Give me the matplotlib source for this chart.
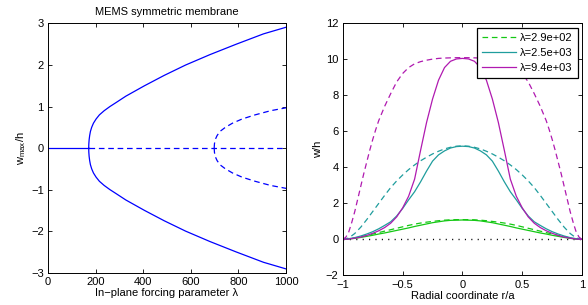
import numpy as np
import matplotlib
matplotlib.use('Agg')
from matplotlib import pyplot as plt

plt.rcParams['font.family'] = ['Liberation Sans', 'DejaVu Sans']
plt.rcParams['font.size'] = 8
plt.rcParams['mathtext.default'] = 'regular'

# ---- left panel: bifurcation diagram ----
lam_flat = [0, 171]
w_flat = [0, 0]
lam_unst = [171, 1000]
w_unst = [0, 0]
lam_main = [171, 171.5, 172.8, 175, 178.2, 183.5, 191, 202, 216, 236, 260,
            287, 327, 405, 488, 578, 680, 790, 905, 1000]
w_main = [0, 0.10, 0.20, 0.30, 0.40, 0.50, 0.60, 0.70, 0.80, 0.90, 1.00,
          1.10, 1.25, 1.50, 1.75, 2.00, 2.25, 2.50, 2.75, 2.91]
lam_sec = [698, 699, 702, 710, 722, 745, 775, 815, 870, 935, 1000]
w_sec = [0, 0.10, 0.20, 0.30, 0.40, 0.50, 0.60, 0.70, 0.80, 0.90, 0.97]

# ---- right panel: profiles ----
r = [-1, -0.95, -0.9, -0.85, -0.8, -0.75, -0.7, -0.65, -0.6, -0.55, -0.5,
     -0.45, -0.4, -0.35, -0.3, -0.25, -0.2, -0.15, -0.1, -0.05, 0,
     0.05, 0.1, 0.15, 0.2, 0.25, 0.3, 0.35, 0.4, 0.45, 0.5,
     0.55, 0.6, 0.65, 0.7, 0.75, 0.8, 0.85, 0.9, 0.95, 1]

g_dash = [0, 0.03, 0.08, 0.15, 0.22, 0.30, 0.38, 0.46, 0.54, 0.62, 0.70,
          0.78, 0.85, 0.91, 0.96, 1.00, 1.04, 1.07, 1.09, 1.10, 1.10,
          1.10, 1.09, 1.07, 1.04, 1.00, 0.96, 0.91, 0.85, 0.78, 0.70,
          0.62, 0.54, 0.46, 0.38, 0.30, 0.22, 0.15, 0.08, 0.03, 0]
g_sol = [0, 0.02, 0.06, 0.11, 0.17, 0.23, 0.30, 0.36, 0.43, 0.50, 0.57,
         0.64, 0.72, 0.79, 0.86, 0.93, 0.98, 1.03, 1.06, 1.07, 1.08,
         1.07, 1.06, 1.03, 0.98, 0.93, 0.86, 0.79, 0.72, 0.64, 0.57,
         0.50, 0.43, 0.36, 0.30, 0.23, 0.17, 0.11, 0.06, 0.02, 0]
t_dash = [0, 0.08, 0.33, 0.68, 1.10, 1.55, 2.00, 2.45, 2.88, 3.25, 3.58,
          3.88, 4.14, 4.37, 4.57, 4.75, 4.90, 5.03, 5.12, 5.18, 5.20,
          5.18, 5.12, 5.03, 4.90, 4.75, 4.57, 4.37, 4.14, 3.88, 3.58,
          3.25, 2.88, 2.45, 2.00, 1.55, 1.10, 0.68, 0.33, 0.08, 0]
t_sol = [0, 0.04, 0.10, 0.19, 0.30, 0.43, 0.59, 0.78, 0.98, 1.30, 1.72,
         2.20, 2.65, 3.20, 3.80, 4.35, 4.70, 4.92, 5.08, 5.16, 5.18,
         5.16, 5.08, 4.92, 4.70, 4.35, 3.80, 3.20, 2.65, 2.20, 1.72,
         1.30, 0.98, 0.78, 0.59, 0.43, 0.30, 0.19, 0.10, 0.04, 0]
m_sol = [0, 0.02, 0.07, 0.13, 0.22, 0.34, 0.48, 0.66, 0.90, 1.25, 1.75,
         2.40, 3.35, 4.95, 6.50, 7.80, 8.85, 9.55, 9.90, 10.03, 10.06,
         10.03, 9.90, 9.55, 8.85, 7.80, 6.50, 4.95, 3.35, 2.40, 1.75,
         1.25, 0.90, 0.66, 0.48, 0.34, 0.22, 0.13, 0.07, 0.02, 0]

# the big dashed profile is steep near the rim, so it has a finer grid
r_md = [-1, -0.975, -0.95, -0.925, -0.9, -0.875, -0.85, -0.825, -0.8, -0.775,
        -0.75, -0.725, -0.7, -0.675, -0.65, -0.6, -0.55, -0.5, -0.45, -0.4,
        -0.35, -0.3, -0.25, -0.2, -0.15, -0.1, -0.05, 0,
        0.05, 0.1, 0.15, 0.2, 0.25, 0.3, 0.35, 0.4, 0.45, 0.5, 0.55, 0.6,
        0.65, 0.675, 0.7, 0.725, 0.75, 0.775, 0.8, 0.825, 0.85, 0.875,
        0.9, 0.925, 0.95, 0.975, 1]
m_dash = [0, 0.12, 0.42, 0.95, 1.55, 2.25, 2.95, 3.65, 4.30, 4.95,
          5.55, 6.10, 6.60, 7.00, 7.40, 8.10, 8.75, 9.22, 9.55, 9.76,
          9.88, 9.96, 10.02, 10.06, 10.08, 10.09, 10.10, 10.10,
          10.10, 10.09, 10.08, 10.06, 10.02, 9.96, 9.88, 9.76, 9.55, 9.22, 8.75, 8.10,
          7.40, 7.00, 6.60, 6.10, 5.55, 4.95, 4.30, 3.65, 2.95, 2.25,
          1.55, 0.95, 0.42, 0.12, 0]
labels = ['\u03bb=2.9e+02', '\u03bb=2.5e+03', '\u03bb=9.4e+03']

green = '#14c814'
teal = '#1f9d9d'
mag = '#b01ab0'
dsh = (0, (4.5, 3))
lw = 0.9

fig = plt.figure(figsize=(5.88, 3.05), dpi=100)

ax1 = fig.add_axes([0.0816, 0.106, 0.405, 0.817])
ax1.plot(lam_flat, w_flat, color='b', lw=lw)
ax1.plot(lam_unst, w_unst, color='b', lw=lw, linestyle=dsh)
ax1.plot(lam_main, w_main, color='b', lw=lw)
ax1.plot(lam_main, [-v for v in w_main], color='b', lw=lw)
ax1.plot(lam_sec, w_sec, color='b', lw=lw, linestyle=dsh)
ax1.plot(lam_sec, [-v for v in w_sec], color='b', lw=lw, linestyle=dsh)
ax1.set_xlim(0, 1000)
ax1.set_ylim(-3, 3)
ax1.set_xticks([0, 200, 400, 600, 800, 1000])
ax1.set_yticks([-3, -2, -1, 0, 1, 2, 3])
ax1.set_yticklabels(['\u22123', '\u22122', '\u22121', '0', '1', '2', '3'])
ax1.set_title('MEMS symmetric membrane', fontsize=8, pad=6)
ax1.set_xlabel('In\u2212plane forcing parameter \u03bb', labelpad=1)
ax1.set_ylabel('w$_{max}$/h', labelpad=2)

ax2 = fig.add_axes([0.583, 0.097, 0.407, 0.826])
ax2.plot(r, [0] * len(r), color='k', lw=1.0, linestyle=(0, (0.8, 3.8)))
l1, = ax2.plot(r, g_dash, color=green, lw=lw, linestyle=dsh)
ax2.plot(r, g_sol, color=green, lw=lw)
ax2.plot(r, t_dash, color=teal, lw=lw, linestyle=dsh)
l2, = ax2.plot(r, t_sol, color=teal, lw=lw)
ax2.plot(r_md, m_dash, color=mag, lw=lw, linestyle=dsh)
l3, = ax2.plot(r, m_sol, color=mag, lw=lw)
ax2.set_xlim(-1, 1)
ax2.set_ylim(-2, 12)
ax2.set_xticks([-1, -0.5, 0, 0.5, 1])
ax2.set_xticklabels(['\u22121', '\u22120.5', '0', '0.5', '1'])
ax2.set_yticks([-2, 0, 2, 4, 6, 8, 10, 12])
ax2.set_yticklabels(['\u22122', '0', '2', '4', '6', '8', '10', '12'])
ax2.set_xlabel('Radial coordinate r/a', labelpad=1)
ax2.set_ylabel('w/h', labelpad=2)
leg = ax2.legend([l1, l2, l3], labels, loc='upper right', fancybox=False,
                 handlelength=3.0, borderaxespad=0.4, labelspacing=0.45,
                 handletextpad=0.4, borderpad=0.45, framealpha=1)
leg.get_frame().set_edgecolor('k')
leg.get_frame().set_linewidth(0.9)

for ax in (ax1, ax2):
    ax.tick_params(direction='in', top=True, right=True, length=3, width=0.6,
                   labelsize=8, pad=3)
    for s in ax.spines.values():
        s.set_linewidth(0.7)

fig.savefig('out.png', dpi=100)
